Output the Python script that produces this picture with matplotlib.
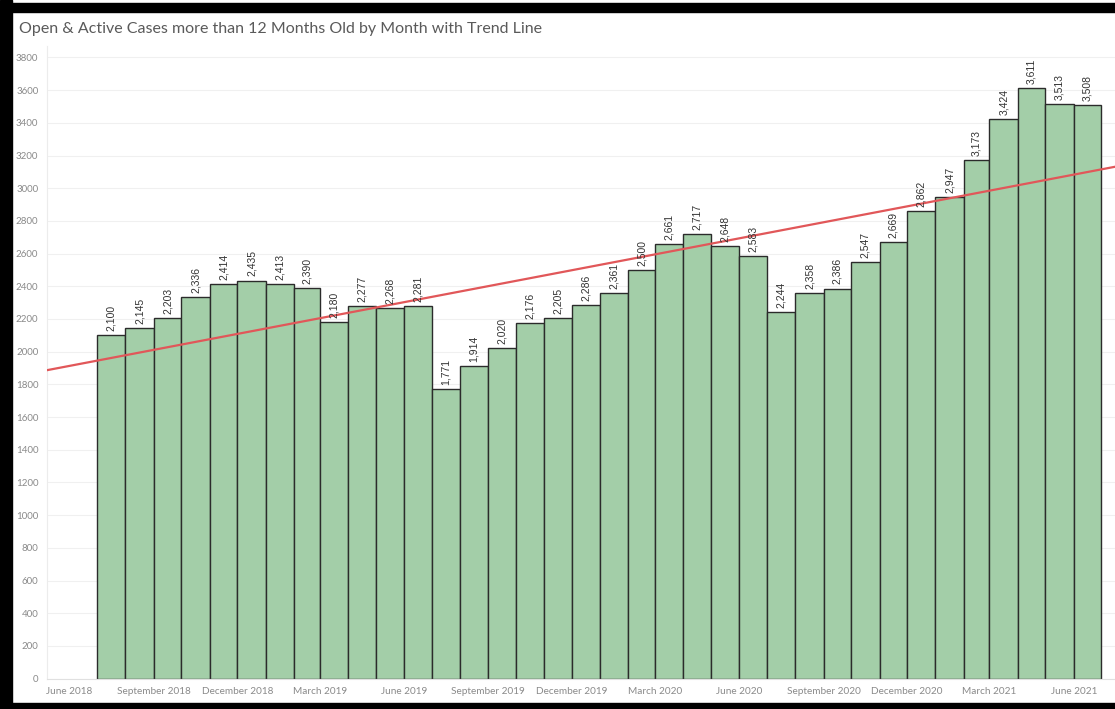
import numpy as np
import pandas as pd
import matplotlib
matplotlib.use('Agg')
import matplotlib.pyplot as plt
import matplotlib.dates as mdates
from matplotlib.patches import Rectangle

plt.rcParams['font.family'] = ['Lato', 'DejaVu Sans']

months = pd.date_range('2018-07-01', periods=36, freq='MS')
cases = [2100, 2145, 2203, 2336, 2414, 2435, 2413, 2390, 2180, 2277, 2268, 2281,
         1771, 1914, 2020, 2176, 2205, 2286, 2361, 2500, 2661, 2717, 2648, 2583,
         2244, 2358, 2386, 2547, 2669, 2862, 2947, 3173, 3424, 3611, 3513, 3508]
tick_months = pd.date_range('2018-06-01', '2021-06-01', freq='3MS')
y_ticks = list(range(0, 3801, 200))

title = 'Open & Active Cases more than 12 Months Old by Month with Trend Line'

W, H = 1115, 709
fig = plt.figure(figsize=(W / 100, H / 100), dpi=100)

# frame around the dashboard
fig.patches.append(Rectangle((0, 1 - 12 / H), 1, 9 / H, transform=fig.transFigure,
                             color='black', zorder=-1))
fig.patches.append(Rectangle((0, 0), 12 / W, 1, transform=fig.transFigure,
                             color='black', zorder=-1))
fig.patches.append(Rectangle((0, 0), 1, 6 / H, transform=fig.transFigure,
                             color='black', zorder=-1))

left_px, bottom_px, top_px = 46.7, 678.6, 46.0
ax = fig.add_axes([left_px / W, (H - bottom_px) / H, 1 - left_px / W,
                   (bottom_px - top_px) / H])

x0 = mdates.date2num(months)
nxt = mdates.date2num(months + pd.offsets.MonthBegin(1))
widths = nxt - x0

ax.bar(x0, cases, width=widths, align='edge', color='#a3cea8',
       edgecolor='#2b2b2b', linewidth=1.0, zorder=2)

for x, w, v in zip(x0, widths, cases):
    ax.text(x + w / 2, v + 25, f'{v:,}', rotation=90, ha='center', va='bottom',
            fontsize=7.5, color='#333333', family='Liberation Sans', zorder=4)

xmin = mdates.date2num(pd.Timestamp('2018-05-07'))
xmax = mdates.date2num(pd.Timestamp('2021-07-16'))
ax.set_xlim(xmin, xmax)
ax.set_ylim(0, 3870)

# linear trend over the month start dates
slope, intercept = np.polyfit(x0, cases, 1)
xs = np.array([xmin, xmax])
ax.plot(xs, slope * xs + intercept, color='#e15759', linewidth=1.6, zorder=3)

ax.set_yticks(y_ticks)
ax.set_yticklabels([str(t) for t in y_ticks])
ax.set_xticks(mdates.date2num(tick_months))
ax.set_xticklabels([d.strftime('%B %Y') for d in tick_months])
ax.tick_params(axis='y', length=0, labelsize=7.0, labelcolor='#8a8a8a', pad=6)
ax.tick_params(axis='x', length=0, labelsize=7.2, labelcolor='#8a8a8a', pad=6)
ax.grid(axis='y', color='#f0f0f0', linewidth=0.8, zorder=0)

for s in ['top', 'right']:
    ax.spines[s].set_visible(False)
ax.spines['left'].set_color('#ececec')
ax.spines['bottom'].set_color('#e0e0e0')

fig.text(19 / W, 1 - 29 / H, title, fontsize=11.5, color='#5a5a5a',
         ha='left', va='center')

fig.savefig('out.png', dpi=100)
